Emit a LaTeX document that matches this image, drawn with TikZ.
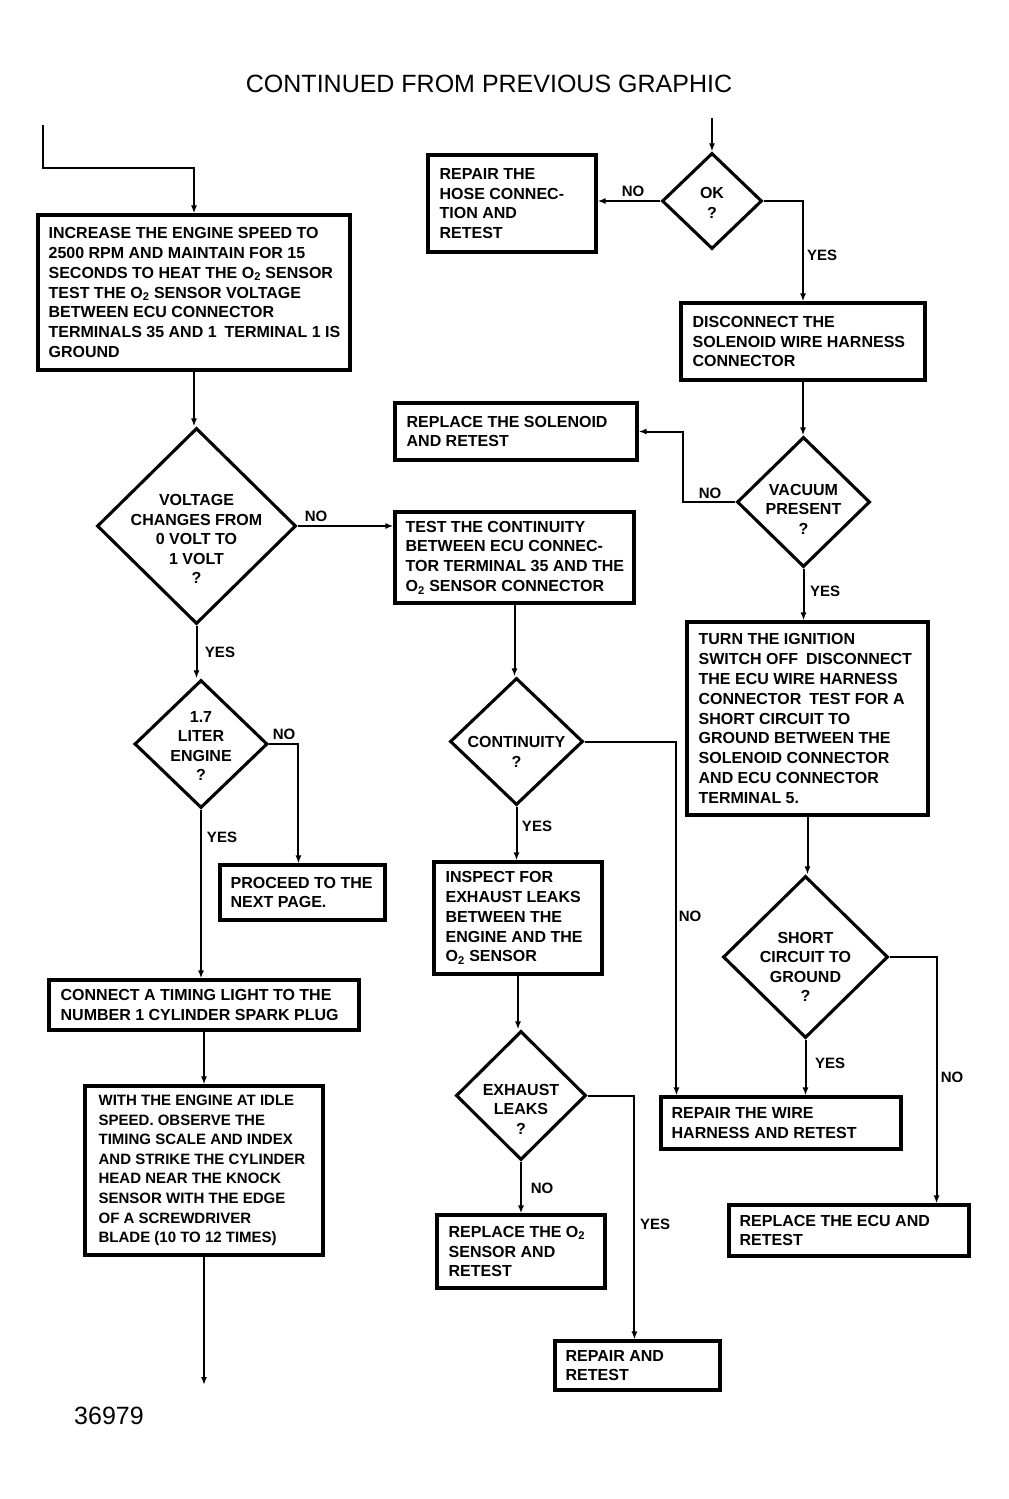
\documentclass[tikz,border=0pt]{standalone}
\usepackage{fontspec}
\setmainfont{Liberation Sans}
\usetikzlibrary{shapes.geometric,arrows.meta}
\begin{document}
\begin{tikzpicture}[x=1pt,y=-1pt,
  every node/.style={inner sep=0pt},
  frame/.style={draw,line width=3.1pt},
  btext/.style={anchor=west,align=left,font=\bfseries\fontsize{16}{19.8}\selectfont},
  dia/.style={draw,diamond,line width=3.1pt},
  dtext/.style={align=center,font=\bfseries\fontsize{16}{19.5}\selectfont},
  lab/.style={font=\bfseries\fontsize{15}{18}\selectfont},
  conn/.style={line width=2pt},
  arr/.style={conn,-{Latex[length=8pt,width=6pt]}}]
\useasboundingbox (0,0) rectangle (1009,1499);
\fill[white] (0,0) rectangle (1009,1499);

\node[font=\fontsize{25}{30}\selectfont] (title) at (489,84) {CONTINUED FROM PREVIOUS GRAPHIC};
\node[font=\fontsize{25}{30}\selectfont] (fig) at (109,1416) {36979};

% boxes
\node[frame,minimum width=312,minimum height=155] (boxA) at (194,292.5) {};
\node[btext] (boxAt) at ([xshift=12pt]boxA.west) {INCREASE THE ENGINE SPEED TO\\2500 RPM AND MAINTAIN FOR 15\\SECONDS TO HEAT THE O\textsubscript{2} SENSOR\\TEST THE O\textsubscript{2} SENSOR VOLTAGE\\BETWEEN ECU CONNECTOR\\TERMINALS 35 AND 1\enspace TERMINAL 1 IS\\GROUND};
\node[frame,minimum width=239,minimum height=91] (boxB) at (514.5,557.5) {};
\node[btext] (boxBt) at ([xshift=12pt]boxB.west) {TEST THE CONTINUITY\\BETWEEN ECU CONNEC-\\TOR TERMINAL 35 AND THE\\O\textsubscript{2} SENSOR CONNECTOR};
\node[frame,minimum width=168,minimum height=97] (hose) at (512,203.5) {};
\node[btext] (hoset) at ([xshift=13pt]hose.west) {REPAIR THE\\HOSE CONNEC-\\TION AND\\RETEST};
\node[frame,minimum width=244,minimum height=77] (boxF) at (803,341.5) {};
\node[btext] (boxFt) at ([xshift=13pt]boxF.west) {DISCONNECT THE\\SOLENOID WIRE HARNESS\\CONNECTOR};
\node[frame,minimum width=242,minimum height=57] (boxG) at (516,431.5) {};
\node[btext] (boxGt) at ([xshift=13pt]boxG.west) {REPLACE THE SOLENOID\\AND RETEST};
\node[frame,minimum width=241,minimum height=193] (boxH) at (807.5,718.5) {};
\node[btext] (boxHt) at ([xshift=13pt]boxH.west) {TURN THE IGNITION\\SWITCH OFF\enspace DISCONNECT\\THE ECU WIRE HARNESS\\CONNECTOR\enspace TEST FOR A\\SHORT CIRCUIT TO\\GROUND BETWEEN THE\\SOLENOID CONNECTOR\\AND ECU CONNECTOR\\TERMINAL 5.};
\node[frame,minimum width=240,minimum height=52] (boxI) at (781,1123) {};
\node[btext] (boxIt) at ([xshift=12pt]boxI.west) {REPAIR THE WIRE\\HARNESS AND RETEST};
\node[frame,minimum width=240,minimum height=51] (boxJ) at (849,1230.5) {};
\node[btext] (boxJt) at ([xshift=12pt]boxJ.west) {REPLACE THE ECU AND\\RETEST};
\node[frame,minimum width=168,minimum height=112] (boxK) at (518,918) {};
\node[btext] (boxKt) at ([xshift=13pt]boxK.west) {INSPECT FOR\\EXHAUST LEAKS\\BETWEEN THE\\ENGINE AND THE\\O\textsubscript{2} SENSOR};
\node[frame,minimum width=168,minimum height=73] (boxL) at (521,1251.5) {};
\node[btext] (boxLt) at ([xshift=13pt]boxL.west) {REPLACE THE O\textsubscript{2}\\SENSOR AND\\RETEST};
\node[frame,minimum width=165,minimum height=49] (boxM) at (637.5,1365.5) {};
\node[btext] (boxMt) at ([xshift=12pt]boxM.west) {REPAIR AND\\RETEST};
\node[frame,minimum width=165,minimum height=55] (boxC) at (302.5,892.5) {};
\node[btext] (boxCt) at ([xshift=12pt]boxC.west) {PROCEED TO THE\\NEXT PAGE.};
\node[frame,minimum width=310,minimum height=50] (boxD) at (204,1005) {};
\node[btext] (boxDt) at ([xshift=13pt]boxD.west) {CONNECT A TIMING LIGHT TO THE\\NUMBER 1 CYLINDER SPARK PLUG};
\node[frame,minimum width=238,minimum height=169] (boxE) at (204,1170.5) {};
\node[btext,font=\bfseries\fontsize{15}{19.6}\selectfont] (boxEt) at ([xshift=15pt]boxE.west) {WITH THE ENGINE AT IDLE\\SPEED. OBSERVE THE\\TIMING SCALE AND INDEX\\AND STRIKE THE CYLINDER\\HEAD NEAR THE KNOCK\\SENSOR WITH THE EDGE\\OF A SCREWDRIVER\\BLADE (10 TO 12 TIMES)};

% diamonds
\node[dia,minimum width=100,minimum height=96] (ok) at (712,201) {};
\node[dtext] (okt) at (712,203) {OK\\?};
\node[dia,minimum width=133,minimum height=130] (vac) at (803.5,502) {};
\node[dtext] (vact) at (803.5,509) {VACUUM\\PRESENT\\?};
\node[dia,minimum width=199,minimum height=196] (d1) at (196.5,526) {};
\node[dtext] (d1t) at (196.5,539) {VOLTAGE\\CHANGES FROM\\0 VOLT TO\\1 VOLT\\?};
\node[dia,minimum width=133,minimum height=128] (d2) at (201,744) {};
\node[dtext] (d2t) at (201,746) {1.7\\LITER\\ENGINE\\?};
\node[dia,minimum width=133,minimum height=127] (cont) at (516.5,741.5) {};
\node[dtext] (contt) at (516.5,752) {CONTINUITY\\?};
\node[dia,minimum width=165,minimum height=162] (short) at (805.5,957) {};
\node[dtext] (shortt) at (805.5,967) {SHORT\\CIRCUIT TO\\GROUND\\?};
\node[dia,minimum width=130,minimum height=129] (exh) at (521,1095.5) {};
\node[dtext] (exht) at (521,1109) {EXHAUST\\LEAKS\\?};

% free ends
\coordinate (start) at (43,125);
\coordinate (bend) at (43,168);
\coordinate (okin) at (712,118);
\coordinate (out) at (209,1385);

% connectors
\draw[arr] (start) -- (bend) -| (boxA.north);
\draw[arr] (boxA.south) -- (boxA.south |- d1.north);
\draw[arr] (d1.east) -- (d1.east -| boxB.west);
\draw[arr] (d1.south) -- (d1.south |- d2.north);
\draw[arr] (d2.east) -| ([xshift=80pt]boxC.north west);
\draw[arr] (d2.south) -- (d2.south |- boxD.north);
\draw[arr] (boxD.south) -- (boxD.south |- boxE.north);
\draw[arr] (boxE.south) -- (boxE.south |- out);

\draw[arr] (okin) -- (ok.north);
\draw[arr] (ok.west) -- (ok.west -| hose.east);
\draw[arr] (ok.east) -| (boxF.north);
\draw[arr] (boxF.south) -- (boxF.south |- vac.north);
\draw[arr] (vac.west) -- ++(-52,0) |- (boxG.east);
\draw[arr] (vac.south) -- (vac.south |- boxH.north);
\draw[arr] (boxH.south) -- (boxH.south |- short.north);
\draw[arr] (short.south) -- (short.south |- boxI.north);
\draw[arr] (short.east) -| ([xshift=-34pt]boxJ.north east);

\draw[arr] (boxB.south) -- (boxB.south |- cont.north);
\draw[arr] (cont.east) -| ([xshift=17pt]boxI.north west);
\draw[arr] (cont.south) -- (cont.south |- boxK.north);
\draw[arr] (boxK.south) -- (boxK.south |- exh.north);
\draw[arr] (exh.south) -- (exh.south |- boxL.north);
\draw[arr] (exh.east) -| ([xshift=81pt]boxM.north west);

% labels
\node[lab] (l1) at (633,191) {NO};
\node[lab] (l2) at (822,255) {YES};
\node[lab] (l3) at (710,493) {NO};
\node[lab] (l4) at (825,591) {YES};
\node[lab] (l5) at (316,516) {NO};
\node[lab] (l6) at (220,652) {YES};
\node[lab] (l7) at (284,734) {NO};
\node[lab] (l8) at (222,837) {YES};
\node[lab] (l9) at (537,826) {YES};
\node[lab] (l10) at (690,916) {NO};
\node[lab] (l11) at (830,1063) {YES};
\node[lab] (l12) at (952,1077) {NO};
\node[lab] (l13) at (542,1188) {NO};
\node[lab] (l14) at (655,1224) {YES};
\end{tikzpicture}
\end{document}
